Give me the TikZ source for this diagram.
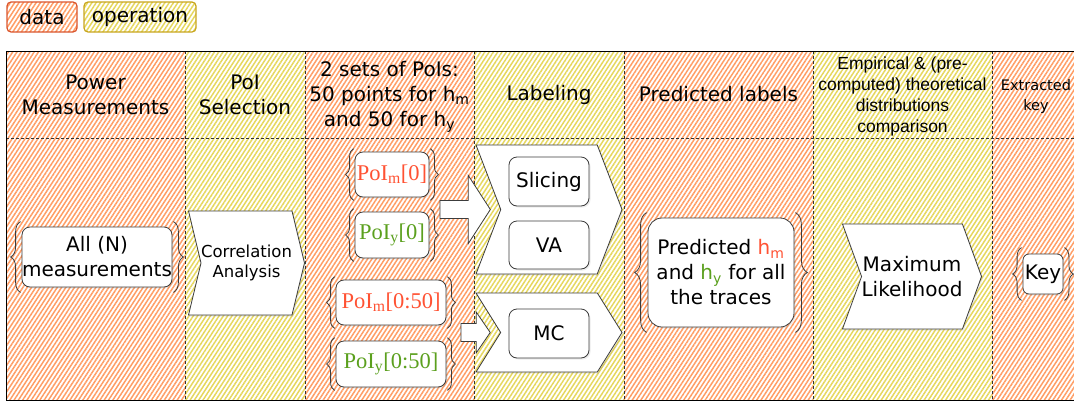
\documentclass[tikz,border=0pt]{standalone}
\usepackage{fontspec}
\setmainfont{DejaVu Sans}
\newfontfamily\arialfont{Liberation Sans}
\newfontfamily\seriffont{Liberation Serif}
\usetikzlibrary{calc}
\usetikzlibrary{patterns.meta}
\usetikzlibrary{shapes.symbols}
\usetikzlibrary{shadows}
\usetikzlibrary{decorations.pathreplacing}

\definecolor{datahatch}{HTML}{FF9E66}
\definecolor{operhatch}{HTML}{E6D75E}
\definecolor{dataline}{HTML}{D9552E}
\definecolor{operline}{HTML}{C8A51E}
\definecolor{boxline}{HTML}{3C3C3C}
\definecolor{hred}{HTML}{FF5233}
\definecolor{hgreen}{HTML}{5BA01E}

\newcommand\bigfont{\fontsize{20}{25}\selectfont}
\newcommand\poifont{\seriffont\fontsize{22.5}{26}\selectfont}

\newcommand\curlies[3]{%
  \draw[curly, decoration={amplitude=#3}] ($(#1.south west)+(-1,#2)$) -- ($(#1.north west)+(-1,-#2)$);
  \draw[curly, decoration={amplitude=#3}] ($(#1.north east)+(1,-#2)$) -- ($(#1.south east)+(1,#2)$);}

\newcommand\fatarrow[5]{%
  \draw[fat] ($(#1)+(0,-#3)$) -- ($(#2)+(-#5,-#3)$) -- ($(#2)+(-#5,-#4)$) -- (#2)
    -- ($(#2)+(-#5,#4)$) -- ($(#2)+(-#5,#3)$) -- ($(#1)+(0,#3)$) -- cycle;}

\tikzset{
  data/.style={pattern={Lines[angle=57,distance=3.6pt,line width=1.5pt]}, pattern color=datahatch},
  oper/.style={pattern={Lines[angle=57,distance=3.6pt,line width=1.5pt]}, pattern color=operhatch},
  sep/.style={draw=black!80, dash pattern=on 3pt off 2pt, line width=0.6pt},
  soft/.style={drop shadow={opacity=0.15, shadow xshift=1.5pt, shadow yshift=-1.5pt}},
  box/.style={draw=boxline, fill=white, rounded corners=8pt, line width=0.8pt, inner sep=0pt,
    align=center, font=\bigfont, soft},
  chev/.style={signal, signal to=east, signal from=west, draw=boxline, fill=white,
    line width=0.8pt, inner sep=0pt, align=center, font=\bigfont, soft},
  curly/.style={decorate, decoration={brace}, draw=boxline, line width=0.8pt},
  fat/.style={draw=boxline, fill=white, line width=0.8pt, line join=miter}
}

\begin{document}
\begin{tikzpicture}[x=1pt, y=-1pt]
  \useasboundingbox (0,0) rectangle (1074,402);
  \clip (0,0) rectangle (1074,402);

  % legend
  \node[data, draw=dataline, line width=1.2pt, rounded corners=4pt, minimum width=70, minimum height=30, font=\bigfont] (legdata) at (42,17) {data};
  \node[oper, draw=operline, line width=1.2pt, rounded corners=4pt, minimum width=112, minimum height=30, font=\bigfont] (legoper) at (140,17) {operation};

  % table
  \foreach \xa/\xb/\kind in {6/185/data, 185/305/oper, 305/474/data, 474/624/oper, 624/813/data, 813/992/oper, 992/1080/data}
    \path[\kind] (\xa,51) rectangle (\xb,400);
  \foreach \xc in {185,305,474,624,813,992}
    \draw[sep] (\xc,51) -- (\xc,400);
  \draw[sep] (6,138) -- (1080,138);
  \draw[black, line width=0.8pt] (1080,51) -- (6,51) -- (6,400) -- (1080,400);

  % headers
  \node[align=center, font=\bigfont] (hpower) at (95.5,94.5) {Power\\Measurements};
  \node[align=center, font=\bigfont] (hsel) at (245,94.5) {PoI\\Selection};
  \node[align=center, font=\bigfont] (hsets) at (389.5,97) {2 sets of PoIs:\\50 points for h\textsubscript{m}\\and 50 for h\textsubscript{y}};
  \node[align=center, font=\bigfont] (hlab) at (549,94.5) {Labeling};
  \node[align=center, font=\bigfont] (hpred) at (718.5,94.5) {Predicted labels};
  \node[align=center, font=\arialfont\fontsize{17.5}{21}\selectfont] (hcomp) at (902.5,96) {Empirical \& (pre-\\computed) theoretical\\distributions\\comparison};
  \node[align=center, font=\fontsize{14.5}{20}\selectfont] (hkey) at (1036,96) {Extracted\\key};

  % data and operations
  \node[box, minimum width=150, minimum height=60] (alln) at (97,257) {All (N)\\measurements};
  \node[chev, minimum width=115, minimum height=104, signal pointer angle=153, font=\fontsize{16.5}{20}\selectfont] (corr) at (246.5,263) {Correlation\\Analysis};

  \node[box, minimum width=74, minimum height=45, font=\poifont, text=hred] (pm0) at (392,174.5) {PoI\textsubscript{m}[0]};
  \node[box, minimum width=74, minimum height=46, font=\poifont, text=hgreen] (py0) at (392,235) {PoI\textsubscript{y}[0]};
  \node[box, minimum width=110, minimum height=45, font=\poifont, text=hred] (pm50) at (391,302.5) {PoI\textsubscript{m}[0:50]};
  \node[box, minimum width=110, minimum height=46, font=\poifont, text=hgreen] (py50) at (391,364) {PoI\textsubscript{y}[0:50]};

  \node[chev, minimum width=146, minimum height=129, signal pointer angle=138] (lab1) at (549,209.5) {};
  \node[box, minimum width=80, minimum height=49] (slic) at (549,181.5) {Slicing};
  \node[box, minimum width=80, minimum height=48] (va) at (549,245) {VA};
  \node[chev, minimum width=146, minimum height=79, signal pointer angle=116] (lab2) at (549,332.5) {};
  \node[box, minimum width=80, minimum height=49] (mc) at (549,333.5) {MC};

  \node[box, minimum width=146, minimum height=109, rounded corners=14pt] (pred) at (721,272.5)
    {Predicted {\color{hred}h\textsubscript{m}}\\and {\color{hgreen}h\textsubscript{y}} for all\\the traces};
  \node[chev, minimum width=138, minimum height=105, signal pointer angle=140] (ml) at (912,276.5) {Maximum\\Likelihood};
  \node[box, minimum width=40, minimum height=40, rounded corners=6pt] (key) at (1043,274) {Key};

  % braces
  \curlies{alln}{5}{10pt}
  \curlies{pm0}{3}{8pt}
  \curlies{py0}{3}{8pt}
  \curlies{pm50}{3}{8pt}
  \curlies{py50}{3}{8pt}
  \curlies{pred}{5}{12pt}
  \curlies{key}{6}{9pt}

  % arrows into labeling
  \coordinate (a1) at (440,209.5);
  \coordinate (a1h) at ($(lab1.west)+(-10,0)$);
  \fatarrow{a1}{a1h}{9}{34}{22}
  \coordinate (a2) at (461,332.5);
  \coordinate (a2h) at ($(lab2.west)+(-10,0)$);
  \fatarrow{a2}{a2h}{9}{20.5}{14}
\end{tikzpicture}
\end{document}
